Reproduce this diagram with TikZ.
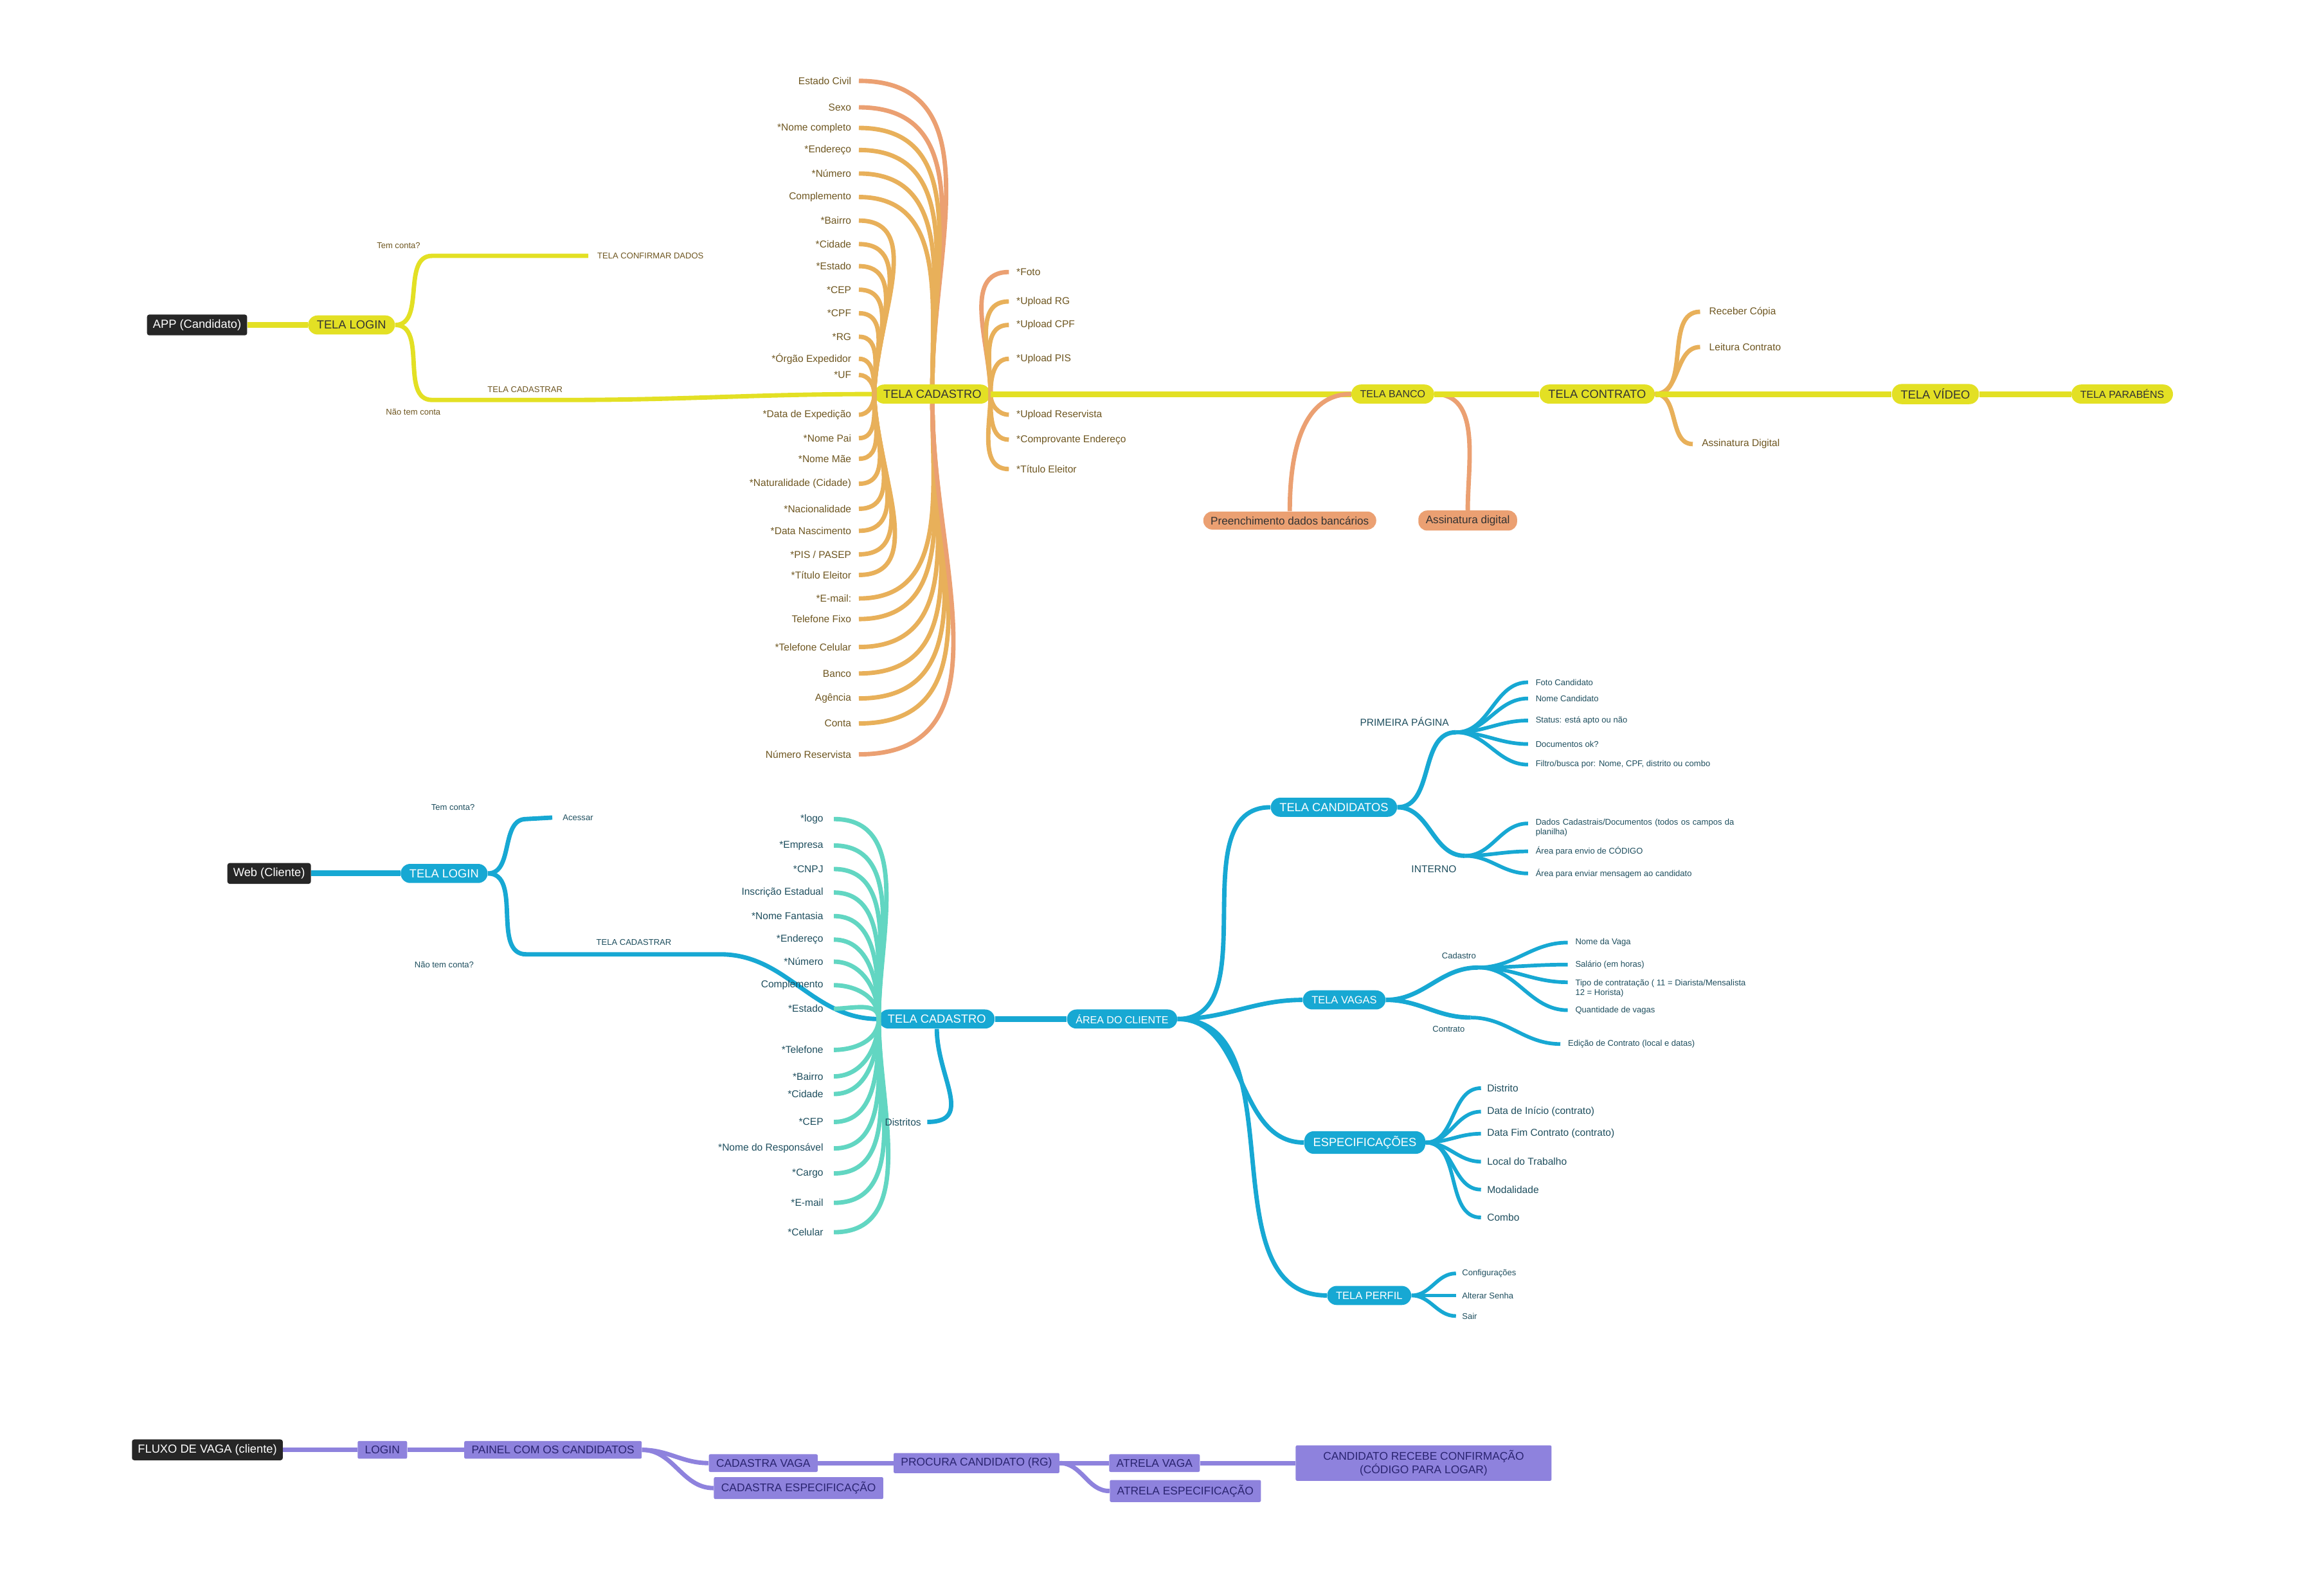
\documentclass[tikz,border=0pt]{standalone}
\usepackage{fontspec}
\setmainfont{Liberation Sans}
\begin{document}
\definecolor{yy}{HTML}{E3E024}
\definecolor{oo}{HTML}{E8B05A}
\definecolor{ss}{HTML}{EBA072}
\definecolor{tb}{HTML}{6E5620}
\definecolor{bb}{HTML}{17A8D3}
\definecolor{tt}{HTML}{62D6C2}
\definecolor{bt}{HTML}{1E4E5E}
\definecolor{pp}{HTML}{8E82DD}
\definecolor{pt}{HTML}{2A2470}
\begin{tikzpicture}[x=1pt,y=-1pt,
  blk/.style={fill=black!85,text=white,rounded corners=1.5pt,minimum height=13,inner xsep=4,font=\fontsize{8}{8}\selectfont},
  yn/.style={fill=yy,rounded corners=6.5pt,minimum height=13,inner xsep=6,text=black!80,font=\fontsize{8}{8}\selectfont},
  sn/.style={fill=ss,rounded corners=6pt,minimum height=12,inner xsep=5,text=black!80,font=\fontsize{7.5}{8}\selectfont},
  bn/.style={fill=bb,rounded corners=6.5pt,minimum height=13,inner xsep=6,text=white,font=\fontsize{8}{8}\selectfont},
  pn/.style={fill=pp,rounded corners=1pt,minimum height=12,inner xsep=5,text=pt,font=\fontsize{7.6}{8}\selectfont},
  lf/.style={text=tb,inner sep=1pt,font=\fontsize{6.8}{7}\selectfont},
  bl/.style={text=bt,inner sep=1pt,font=\fontsize{5.7}{6.5}\selectfont,align=left},
  bm/.style={text=bt,inner sep=1pt,font=\fontsize{6.8}{7}\selectfont},
  yl/.style={text=tb,inner sep=1pt,font=\fontsize{5.7}{6}\selectfont},
  yb/.style={yy,line width=4pt},
  ob/.style={oo,line width=3pt},
  sb/.style={ss,line width=3pt},
  bbr/.style={bb,line width=3pt},
  tbr/.style={tt,line width=3pt},
  pb/.style={pp,line width=3pt},
]
\useasboundingbox (0,0) rectangle (1568,1085);

% ===== APP =====
\node[blk] (app) at (134,221) {APP (Candidato)};
\node[yn] (ylog) at (239,221) {TELA LOGIN};
\draw[yb] (app) -- (ylog);
\coordinate (yconf) at (400,174);
\node[yl,anchor=west] (yconft) at (405,174) {TELA CONFIRMAR DADOS};
\node[yl] at (271,167) {Tem conta?};
\draw[yb,line width=3pt] (ylog.east) to[out=0,in=180] ++(25,-47) -- (yconf);
\node[yn] (ycad) at (634,268) {TELA CADASTRO};
\coordinate (ymid) at (385,272);
\draw[yb,line width=3pt] (ylog.east) to[out=0,in=180] ++(25,51) -- (ymid) to[out=0,in=180] (ycad.west);
\node[yl] at (357,265) {TELA CADASTRAR};
\node[yl] at (281,280) {Não tem conta};

% cadastro left outer (top)
\foreach \n/\y/\t/\c in {1/55/Estado Civil/ss,2/73/Sexo/ss,3/87/*Nome completo/oo,4/102/*Endereço/oo,5/118/*Número/oo,6/134/Complemento/oo}{
  \node[lf,anchor=east] (A\n) at (580,\y) {\t};
  \draw[\c,line width=3pt] (ycad.north) to[out=90,in=0,looseness=1.1] ([xshift=4pt]A\n.east);
}
% inner
\foreach \n/\y/\t in {7/150/*Bairro,8/166/*Cidade,9/181/*Estado,10/197/*CEP,11/213/*CPF,12/229/*RG,13/244/*Órgão Expedidor,14/255/*UF}{
  \node[lf,anchor=east] (A\n) at (580,\y) {\t};
  \draw[ob] (ycad.west) to[out=90,in=0] ([xshift=4pt]A\n.east);
}
\foreach \n/\y/\t in {15/282/*Data de Expedição,16/298/*Nome Pai,17/312/*Nome Mãe,18/329/*Naturalidade (Cidade),19/346/*Nacionalidade,20/361/*Data Nascimento,21/377/{*PIS / PASEP},22/391/*Título Eleitor}{
  \node[lf,anchor=east] (A\n) at (580,\y) {\t};
  \draw[ob] (ycad.west) to[out=-90,in=0] ([xshift=4pt]A\n.east);
}
\foreach \n/\y/\t/\c in {23/407/*E-mail:/oo,24/421/Telefone Fixo/oo,25/440/*Telefone Celular/oo,26/458/Banco/oo,27/475/Agência/oo,28/492/Conta/oo,29/513/Número Reservista/ss}{
  \node[lf,anchor=east] (A\n) at (580,\y) {\t};
  \draw[\c,line width=3pt] (ycad.south) to[out=-90,in=0,looseness=1.1] ([xshift=4pt]A\n.east);
}
% cadastro right
\foreach \n/\y/\t/\c in {1/185/*Foto/ss,2/205/*Upload RG/oo,3/221/*Upload CPF/oo,4/244/*Upload PIS/oo}{
  \node[lf,anchor=west] (R\n) at (690,\y) {\t};
  \draw[\c,line width=3pt] (ycad.east) to[out=90,in=180] ([xshift=-4pt]R\n.west);
}
\foreach \n/\y/\t in {5/282/*Upload Reservista,6/299/*Comprovante Endereço,7/319/*Título Eleitor}{
  \node[lf,anchor=west] (R\n) at (690,\y) {\t};
  \draw[ob] (ycad.east) to[out=-90,in=180] ([xshift=-4pt]R\n.west);
}
% banco etc
\node[yn,font=\fontsize{7}{7}\selectfont] (yban) at (947,268) {TELA BANCO};
\draw[yb] (ycad) -- (yban);
\node[sn] (pdb) at (877,354) {Preenchimento dados bancários};
\node[sn] (asd) at (998,354) {Assinatura digital};
\draw[sb] (yban.west) to[out=180,in=90] (pdb.north);
\draw[sb] (yban.east) to[out=0,in=90] (asd.north);
\node[yn] (ycon) at (1086,268) {TELA CONTRATO};
\draw[yb] (yban) -- (ycon);
\node[lf,anchor=west] (c1) at (1161,212) {Receber Cópia};
\node[lf,anchor=west] (c2) at (1161,236) {Leitura Contrato};
\node[lf,anchor=west] (c3) at (1156,302) {Assinatura Digital};
\draw[ob] (ycon.east) to[out=0,in=180] ([xshift=-5pt]c1.west);
\draw[ob] (ycon.east) to[out=0,in=180] ([xshift=-5pt]c2.west);
\draw[ob] (ycon.east) to[out=0,in=180] ([xshift=-5pt]c3.west);
\node[yn] (yvid) at (1316,268) {TELA VÍDEO};
\node[yn,font=\fontsize{7}{7}\selectfont] (ypar) at (1443,268) {TELA PARABÉNS};
\draw[yb] (ycon) -- (yvid);
\draw[yb] (yvid) -- (ypar);

% ===== WEB =====
\node[blk] (web) at (183,594) {Web (Cliente)};
\node[bn] (wlog) at (302,594) {TELA LOGIN};
\draw[bb,line width=4pt] (web) -- (wlog);
\node[bl] (acc) at (393,556) {Acessar};
\draw[bbr] (wlog.east) to[out=0,in=180] ++(26,-37) -- ([xshift=-6pt]acc.west);
\node[bl] at (308,549) {Tem conta?};
\node[bn] (wcad) at (637,693) {TELA CADASTRO};
\draw[bbr] (wlog.east) to[out=0,in=180] ++(26,55) -- ++(132,0) to[out=0,in=180] (wcad.west);
\node[bl] at (431,641) {TELA CADASTRAR};
\node[bl] at (302,656) {Não tem conta?};
\foreach \n/\y/\t in {1/557/*logo,2/575/*Empresa,3/591/*CNPJ,4/607/Inscrição Estadual,5/623/*Nome Fantasia,6/639/*Endereço,7/654/*Número,8/670/Complemento,9/686/*Estado}{
  \node[lf,text=bt,anchor=east] (W\n) at (561,\y) {\t};
  \draw[tbr] (wcad.west) to[out=90,in=0] ([xshift=6pt]W\n.east);
}
\foreach \n/\y/\t in {10/714/*Telefone,11/732/*Bairro,12/744/*Cidade,13/763/*CEP,14/781/*Nome do Responsável,15/798/*Cargo,16/818/*E-mail,17/838/*Celular}{
  \node[lf,text=bt,anchor=east] (W\n) at (561,\y) {\t};
  \draw[tbr] (wcad.west) to[out=-90,in=0] ([xshift=6pt]W\n.east);
}
\node[lf,text=bt] (dis) at (614,763) {Distritos};
\draw[bbr] (wcad.south) to[out=-90,in=0,looseness=1.3] ([xshift=3pt]dis.east);
\node[bn,font=\fontsize{7}{7}\selectfont] (area) at (763,693) {ÁREA DO CLIENTE};
\draw[bb,line width=4pt] (wcad) -- (area);
\node[bn] (tcand) at (907,549) {TELA CANDIDATOS};
\node[bn,font=\fontsize{7.2}{7}\selectfont] (tvag) at (914,680) {TELA VAGAS};
\node[bn] (tesp) at (928,777) {ESPECIFICAÇÕES};
\node[bn,font=\fontsize{7.2}{7}\selectfont] (tper) at (931,881) {TELA PERFIL};
\foreach \t in {tcand,tvag,tesp,tper}{\draw[bbr] (area.east) to[out=0,in=180] (\t.west);}
% candidatos
\coordinate (pp1) at (990,498);
\coordinate (pp2) at (996,582);
\node[bm] at (955,491) {PRIMEIRA PÁGINA};
\node[bm] at (975,591) {INTERNO};
\draw[bbr] (tcand.east) to[out=0,in=180] (pp1);
\draw[bbr] (tcand.east) to[out=0,in=180] (pp2);
\foreach \n/\y/\t in {1/464/Foto Candidato,2/475/Nome Candidato,3/490/Status: está apto ou não,4/506/Documentos ok?,5/520/{Filtro/busca por: Nome, CPF, distrito ou combo}}{
  \node[bl,anchor=west] (K\n) at (1043,\y) {\t};
  \draw[bb,line width=2.5pt] (pp1) to[out=0,in=180] ([xshift=-4pt]K\n.west);
}
\node[bl,anchor=west,text width=148] (K6) at (1043,563) {Dados Cadastrais/Documentos (todos os campos da planilha)};
\node[bl,anchor=west] (K7) at (1043,579) {Área para envio de CÓDIGO};
\node[bl,anchor=west] (K8) at (1043,594) {Área para enviar mensagem ao candidato};
\foreach \k/\d in {6/-3,7/0,8/0}{\draw[bb,line width=2.5pt] (pp2) to[out=0,in=180] ([shift={(-4,\d)}]K\k.west);}
% vagas
\coordinate (vc1) at (1005,658);
\coordinate (vc2) at (1000,692);
\node[bl] at (992,650) {Cadastro};
\node[bl] at (985,700) {Contrato};
\draw[bbr] (tvag.east) to[out=0,in=180] (vc1);
\draw[bbr] (tvag.east) to[out=0,in=180] (vc2);
\node[bl,anchor=west] (V1) at (1070,641) {Nome da Vaga};
\node[bl,anchor=west] (V2) at (1070,656) {Salário (em horas)};
\node[bl,anchor=west] (V3) at (1070,672) {Tipo de contratação ( 11 = Diarista/Mensalista\\12 = Horista)};
\node[bl,anchor=west] (V4) at (1070,687) {Quantidade de vagas};
\foreach \k/\d in {1/0,2/0,3/-4,4/0}{\draw[bb,line width=2.5pt] (vc1) to[out=0,in=180] ([shift={(-4,\d)}]V\k.west);}
\node[bl,anchor=west] (V5) at (1065,710) {Edição de Contrato (local e datas)};
\draw[bb,line width=2.5pt] (vc2) to[out=0,in=180] ([xshift=-4pt]V5.west);
% especificacoes
\foreach \n/\y/\t in {1/740/Distrito,2/756/Data de Início (contrato),3/771/Data Fim Contrato (contrato),4/790/Local do Trabalho,5/809/Modalidade,6/828/Combo}{
  \node[bm,anchor=west] (E\n) at (1010,\y) {\t};
  \draw[bb,line width=2.5pt] (tesp.east) to[out=0,in=180] ([xshift=-3pt]E\n.west);
}
\foreach \n/\y/\t in {1/866/Configurações,2/881/Alterar Senha,3/895/Sair}{
  \node[bl,anchor=west] (P\n) at (993,\y) {\t};
  \draw[bb,line width=2.5pt] (tper.east) to[out=0,in=180] ([xshift=-3pt]P\n.west);
}

% ===== FLUXO =====
\node[blk] (flx) at (141,986) {FLUXO DE VAGA (cliente)};
\node[pn] (flog) at (260,986) {LOGIN};
\node[pn] (pain) at (376,986) {PAINEL COM OS CANDIDATOS};
\node[pn] (cv) at (519,995) {CADASTRA VAGA};
\node[pn] (ce) at (543,1012) {CADASTRA ESPECIFICAÇÃO};
\node[pn] (proc) at (664,995) {PROCURA CANDIDATO (RG)};
\node[pn] (av) at (785,995) {ATRELA VAGA};
\node[pn] (ae) at (806,1014) {ATRELA ESPECIFICAÇÃO};
\node[pn,minimum height=24,minimum width=174,align=center,font=\fontsize{7.6}{8}\selectfont] (conf) at (968,995) {CANDIDATO RECEBE CONFIRMAÇÃO\\(CÓDIGO PARA LOGAR)};
\draw[pb] (flx) -- (flog);
\draw[pb] (flog) -- (pain);
\draw[pb] (pain.east) to[out=0,in=180] (cv.west);
\draw[pb] (pain.east) to[out=0,in=180] (ce.west);
\draw[pb] (cv) -- (proc);
\draw[pb] (proc.east) to[out=0,in=180] (av.west);
\draw[pb] (proc.east) to[out=0,in=180] (ae.west);
\draw[pb] (av) -- (conf);
\end{tikzpicture}
\end{document}
